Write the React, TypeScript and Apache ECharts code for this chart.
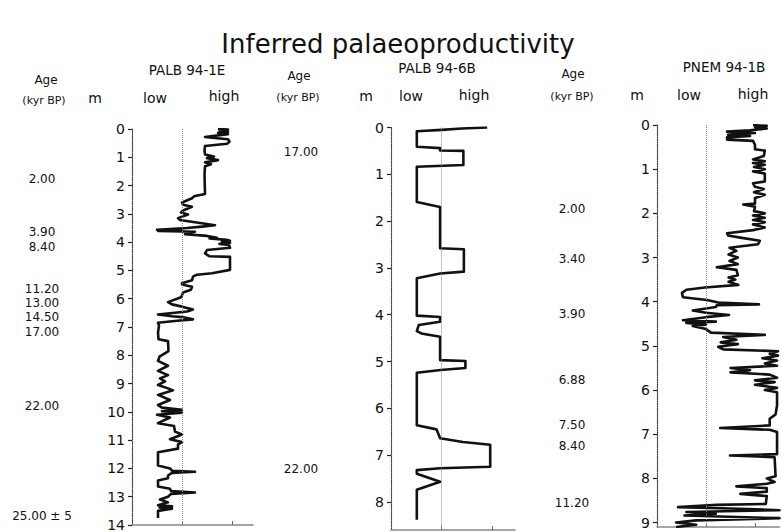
import React, { useEffect, useRef } from "react";
import * as echarts from "echarts";

const FONT = "DejaVu Sans";

// Inferred palaeoproductivity index (x: 0 .. ~2.5, dotted reference at 1) vs depth (m)
const palb1E: [number, number][] = [
  [1.72,0.0],[1.92,0.02],[1.75,0.06],[1.92,0.1],[1.72,0.14],[1.92,0.18],[1.46,0.28],[1.55,0.3],[1.92,0.36],[1.95,0.45],
  [1.9,0.52],[1.46,0.6],[1.45,0.75],[1.46,0.9],[1.64,0.97],[1.5,1.03],[1.72,1.1],[1.46,1.18],[1.58,1.25],[1.46,1.32],
  [1.45,1.6],[1.46,2.3],[1.24,2.38],[1.2,2.45],[1.0,2.6],[1.02,2.68],[1.2,2.75],[1.02,2.88],[0.98,2.95],[1.12,3.02],
  [0.92,3.15],[0.96,3.22],[1.66,3.4],[1.4,3.45],[1.1,3.5],[0.5,3.56],[1.0,3.58],[0.52,3.6],[1.26,3.63],[1.1,3.68],
  [1.06,3.72],[1.5,3.78],[1.7,3.85],[1.55,3.87],[1.9,3.92],[1.96,3.95],[1.8,3.98],[1.96,4.02],[1.75,4.06],[1.94,4.1],
  [1.96,4.2],[1.5,4.28],[1.46,4.4],[1.55,4.5],[1.96,4.52],[1.96,4.7],[1.96,4.98],[1.6,5.1],[1.3,5.15],[1.22,5.22],
  [1.2,5.35],[1.0,5.45],[1.0,5.5],[1.2,5.58],[1.18,5.68],[1.02,5.78],[1.0,5.88],[0.98,5.95],[0.72,6.12],[0.8,6.2],
  [1.0,6.28],[1.22,6.38],[1.1,6.45],[0.52,6.56],[0.8,6.62],[1.0,6.65],[1.22,6.73],[0.9,6.78],[0.52,6.85],[0.54,6.95],
  [0.52,7.2],[0.53,7.43],[0.72,7.5],[0.73,7.85],[0.55,8.05],[0.52,8.2],[0.72,8.37],[0.52,8.55],[0.72,8.7],[0.56,8.82],
  [0.66,8.92],[0.52,9.05],[0.72,9.17],[0.82,9.24],[0.52,9.4],[0.76,9.58],[0.52,9.76],[0.6,9.85],[1.0,9.93],[0.6,9.98],
  [1.0,10.03],[0.5,10.1],[0.76,10.2],[0.52,10.4],[0.84,10.5],[0.86,10.7],[1.0,10.8],[0.76,10.97],[1.0,11.07],[0.92,11.15],
  [0.92,11.3],[0.52,11.43],[0.52,11.9],[0.76,12.0],[0.8,12.08],[1.26,12.12],[0.8,12.16],[0.72,12.25],[0.72,12.35],[0.52,12.43],
  [0.52,12.64],[0.76,12.72],[0.78,12.8],[1.26,12.85],[0.78,12.9],[0.72,13.0],[0.56,13.1],[0.72,13.2],[0.52,13.3],[0.8,13.34],
  [0.55,13.38],[0.8,13.42],[0.52,13.5],[0.52,13.75],
];

const palb6B: [number, number][] = [
  [1.9,0.0],[1.4,0.02],[1.0,0.05],[0.51,0.08],[0.51,0.41],[0.97,0.44],[0.97,0.49],[1.43,0.5],[1.43,0.8],[0.51,0.84],
  [0.51,1.59],[0.97,1.7],[0.97,2.58],[1.44,2.6],[1.44,3.08],[0.97,3.12],[0.51,3.22],[0.51,4.02],[0.97,4.05],[0.97,4.15],
  [0.55,4.22],[0.51,4.35],[0.6,4.4],[0.97,4.47],[0.97,4.97],[1.47,4.99],[1.47,5.14],[0.98,5.18],[0.51,5.24],[0.51,6.36],
  [0.9,6.45],[0.97,6.64],[1.42,6.72],[1.96,6.78],[1.96,7.25],[0.97,7.28],[0.51,7.32],[0.51,7.4],[0.97,7.57],[0.51,7.74],
  [0.51,8.38],
];

const pnem1B: [number, number][] = [
  [1.96,0.0],[2.24,0.02],[2.0,0.05],[2.24,0.08],[1.9,0.12],[1.43,0.15],[2.0,0.18],[1.45,0.22],[1.9,0.25],[1.43,0.28],
  [1.43,0.33],[1.96,0.36],[2.0,0.45],[2.0,0.55],[2.2,0.58],[2.18,0.7],[1.96,0.78],[2.2,0.82],[1.96,0.86],[2.2,0.9],
  [1.98,0.95],[2.2,1.0],[1.96,1.05],[2.2,1.1],[2.2,1.28],[1.96,1.32],[2.0,1.4],[2.18,1.45],[1.98,1.52],[2.2,1.58],
  [2.0,1.65],[2.0,1.78],[1.76,1.8],[2.0,1.85],[1.98,1.95],[2.2,2.0],[1.96,2.05],[2.2,2.1],[1.96,2.15],[2.2,2.2],
  [1.96,2.25],[2.2,2.32],[1.96,2.38],[1.43,2.45],[1.45,2.5],[1.7,2.55],[2.1,2.62],[2.06,2.7],[1.48,2.78],[1.62,2.85],
  [1.46,2.93],[1.65,3.0],[1.48,3.08],[1.65,3.15],[1.22,3.22],[1.62,3.28],[1.65,3.4],[1.46,3.45],[1.6,3.5],[1.46,3.55],
  [1.66,3.62],[0.98,3.68],[0.6,3.73],[0.51,3.8],[0.53,3.9],[1.02,3.96],[1.25,4.02],[2.08,4.06],[1.22,4.08],[1.2,4.12],
  [0.73,4.2],[1.0,4.25],[1.47,4.3],[1.0,4.35],[0.53,4.42],[1.2,4.45],[0.6,4.48],[1.0,4.52],[0.73,4.55],[1.0,4.62],
  [1.1,4.7],[2.2,4.75],[1.35,4.8],[1.62,4.86],[1.3,4.92],[1.65,4.96],[1.25,5.02],[1.35,5.08],[2.47,5.12],[2.3,5.18],
  [2.47,5.22],[2.15,5.28],[2.45,5.33],[2.2,5.4],[2.45,5.45],[1.5,5.5],[1.9,5.55],[1.5,5.6],[2.3,5.65],[2.45,5.72],
  [2.0,5.78],[2.4,5.82],[2.0,5.88],[2.45,5.95],[2.2,6.0],[2.45,6.05],[2.45,6.35],[2.42,6.55],[2.3,6.65],[2.3,6.8],
  [1.29,6.86],[2.3,6.9],[2.45,6.95],[2.45,7.45],[1.49,7.48],[2.4,7.52],[2.42,7.95],[2.24,8.0],[2.4,8.08],[2.24,8.12],
  [1.62,8.18],[2.24,8.22],[2.24,8.3],[1.7,8.35],[2.24,8.4],[2.22,8.58],[1.22,8.6],[0.43,8.65],[1.5,8.68],[2.5,8.72],
  [0.6,8.76],[1.2,8.8],[0.56,8.84],[2.5,8.9],[0.8,8.95],[0.39,9.0],[0.8,9.05],[0.39,9.1],
];

const coreNames = ["PALB 94-1E", "PALB 94-6B", "PNEM 94-1B"];
const depthTicks1 = [0,1,2,3,4,5,6,7,8,9,10,11,12,13,14];
const depthTicks2 = [0,1,2,3,4,5,6,7,8];
const depthTicks3 = [0,1,2,3,4,5,6,7,8,9];
const depthMax = [14, 8.6, 9.1];

const ages1 = ["2.00","3.90","8.40","11.20","13.00","14.50","17.00","22.00","25.00 ± 5"];
const ageDepths1 = [1.77,3.65,4.18,5.64,6.15,6.66,7.17,9.79,13.68];
const ages2 = ["17.00","22.00"];
const ageDepths2 = [0.52,7.3];
const ages3 = ["2.00","3.40","3.90","6.88","7.50","8.40","11.20"];
const ageDepths3 = [1.9,3.03,4.28,5.77,6.8,7.27,8.55];

export default function App() {
  const ref = useRef<HTMLDivElement>(null);
  useEffect(() => {
    document.body.style.margin = "0";
    const chart = echarts.init(ref.current!, null, { renderer: "svg" });
    const grids = [
      { left: 132, top: 129, width: 121, height: 402 },
      { left: 391, top: 127.5, width: 124, height: 402.5 },
      { left: 657, top: 125, width: 122.5, height: 402 },
    ];
    const xMax = [2.42, 2.45, 2.5];
    const tickSets = [depthTicks1, depthTicks2, depthTicks3];
    const seriesData = [palb1E, palb6B, pnem1B];
    const option: any = {
      animation: false,
      backgroundColor: "#fff",
      textStyle: { fontFamily: FONT },
      grid: grids.map((g) => ({ ...g, containLabel: false })),
      xAxis: grids.map((_, i) => ({
        type: "value",
        gridIndex: i,
        min: 0,
        max: xMax[i],
        position: "bottom",
        axisLine: { show: true, onZero: false, lineStyle: { color: "#888", width: 1.5 } },
        axisTick: { show: true, inside: true, length: 4, customValues: [1, 2], lineStyle: { color: "#666" } },
        axisLabel: { show: false },
        splitLine: { show: false },
      })),
      yAxis: grids.map((_, i) => ({
        type: "value",
        gridIndex: i,
        inverse: true,
        min: 0,
        max: depthMax[i],
        axisLine: { show: true, onZero: false, lineStyle: { color: "#444", width: 1.2, type: "dotted" } },
        axisTick: { show: true, length: 4, customValues: tickSets[i], lineStyle: { color: "#222", width: 1.2 } },
        axisLabel: {
          show: true,
          customValues: tickSets[i],
          margin: 7,
          color: "#111",
          fontSize: 14,
          fontFamily: FONT,
        },
        splitLine: { show: false },
      })),
      series: seriesData.map((d, i) => ({
        type: "line",
        xAxisIndex: i,
        yAxisIndex: i,
        data: d,
        showSymbol: false,
        symbol: "none",
        lineStyle: { color: "#111", width: 2.6, join: "round" },
        markLine: {
          silent: true,
          symbol: "none",
          label: { show: false },
          lineStyle: { color: "#888", type: "dotted", width: 1 },
          data: [{ xAxis: 1 }],
        },
      })),
    };
    chart.setOption(option);

    const txt = (text: string, x: number, y: number, size: number, extra: any = {}) => ({
      type: "text",
      x,
      y,
      style: {
        text,
        fontSize: size,
        fontFamily: FONT,
        fill: "#111",
        textAlign: "center",
        textVerticalAlign: "middle",
        ...extra,
      },
    });

    const graphics: any[] = [
      txt("Inferred palaeoproductivity", 398, 44, 26),
      txt(coreNames[0], 187, 70, 13.5),
      txt(coreNames[1], 437, 68, 13.5),
      txt(coreNames[2], 724, 67, 13.5),
      txt("Age", 46, 80, 12),
      txt("(kyr BP)", 44, 100, 11),
      txt("m", 95, 98, 14),
      txt("low", 155, 98, 14),
      txt("high", 224, 96, 14),
      txt("Age", 299, 76, 12),
      txt("(kyr BP)", 298, 97, 11),
      txt("m", 366, 96, 14),
      txt("low", 411, 96, 14),
      txt("high", 474, 95, 14),
      txt("Age", 573, 74, 12),
      txt("(kyr BP)", 572, 96, 11),
      txt("m", 637, 95, 14),
      txt("low", 689, 95, 14),
      txt("high", 753, 94, 14),
    ];
    const ageSets: [string[], number[], number][] = [
      [ages1, ageDepths1, 42],
      [ages2, ageDepths2, 301],
      [ages3, ageDepths3, 572],
    ];
    ageSets.forEach(([labels, depths, cx], i) => {
      labels.forEach((lab, k) => {
        const py = chart.convertToPixel({ yAxisIndex: i } as any, depths[k]) as number;
        graphics.push(txt(lab, cx, py, 12, { lineHeight: 12 }));
      });
    });
    chart.setOption({ graphic: graphics });

    return () => chart.dispose();
  }, []);
  return <div ref={ref} style={{ width: 782, height: 532 }} />;
}
